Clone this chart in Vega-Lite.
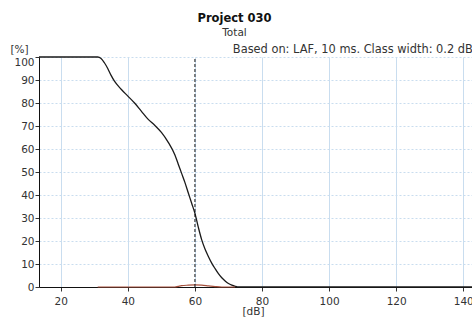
{
  "$schema": "https://vega.github.io/schema/vega-lite/v6.json",
  "autosize": {"type": "none"},
  "padding": {"left": 39, "top": 57, "right": 0, "bottom": 32},
  "width": 441,
  "height": 230,
  "background": "white",
  "config": {
    "view": {"stroke": null},
    "font": "DejaVu Sans",
    "axis": {
      "labelFont": "DejaVu Sans",
      "titleFont": "DejaVu Sans",
      "labelFontSize": 10.5,
      "titleFontSize": 10.5,
      "titleFontWeight": "normal",
      "labelColor": "#333333",
      "titleColor": "#333333",
      "domainColor": "#111111",
      "tickColor": "#333333",
      "tickSize": 4,
      "gridColor": "#c9ddef",
      "gridWidth": 1,
      "labelOverlap": false
    }
  },
  "title": {
    "text": "Project 030",
    "subtitle": "Total",
    "anchor": "middle",
    "dx": -25,
    "fontSize": 11.5,
    "fontWeight": "bold",
    "font": "DejaVu Sans",
    "color": "#111111",
    "subtitleFont": "DejaVu Sans",
    "subtitleFontSize": 10.5,
    "subtitleColor": "#333333",
    "subtitlePadding": 4,
    "offset": 5
  },
  "datasets": {
    "cum": [
      {"db": 13.5, "pct": 100}, {"db": 31, "pct": 100}, {"db": 32, "pct": 99.4},
      {"db": 33, "pct": 97.5}, {"db": 34, "pct": 95}, {"db": 35, "pct": 92},
      {"db": 36, "pct": 89.5}, {"db": 38, "pct": 86}, {"db": 40, "pct": 83},
      {"db": 42, "pct": 80}, {"db": 44, "pct": 76.5}, {"db": 46, "pct": 73},
      {"db": 48, "pct": 70.3}, {"db": 50, "pct": 67.2}, {"db": 52, "pct": 63},
      {"db": 54, "pct": 57.5}, {"db": 55, "pct": 53.5}, {"db": 56, "pct": 49.5},
      {"db": 57, "pct": 45.5}, {"db": 58, "pct": 41}, {"db": 59, "pct": 36.5},
      {"db": 60, "pct": 32}, {"db": 61, "pct": 26}, {"db": 62, "pct": 20.6},
      {"db": 63, "pct": 16.5}, {"db": 64, "pct": 13.3}, {"db": 65, "pct": 10.4},
      {"db": 66, "pct": 8}, {"db": 67, "pct": 5.8}, {"db": 68, "pct": 4},
      {"db": 69, "pct": 2.6}, {"db": 70, "pct": 1.5}, {"db": 71, "pct": 0.8},
      {"db": 72, "pct": 0.3}, {"db": 73, "pct": 0}, {"db": 145, "pct": 0}
    ],
    "dist": [
      {"db": 31, "pct": 0}, {"db": 54, "pct": 0}, {"db": 55, "pct": 0.3},
      {"db": 56, "pct": 0.6}, {"db": 58, "pct": 0.8}, {"db": 60, "pct": 0.9},
      {"db": 62, "pct": 0.8}, {"db": 64, "pct": 0.5}, {"db": 66, "pct": 0.2},
      {"db": 68, "pct": 0}, {"db": 72, "pct": 0}
    ],
    "marker": [{"db": 60, "pct": 0, "top": 100}],
    "note": [{"db": 71.3, "pct": 103.1, "label": "Based on: LAF, 10 ms. Class width: 0.2 dB"}]
  },
  "encoding": {
    "x": {
      "field": "db", "type": "quantitative",
      "scale": {"domain": [13.5, 145], "nice": false, "zero": false},
      "axis": {
        "values": [20, 40, 60, 80, 100, 120, 140],
        "grid": true,
        "title": "[dB]",
        "titleX": 214,
        "titlePadding": 0,
        "labelPadding": 5,
        "labelOverlap": false
      }
    },
    "y": {
      "field": "pct", "type": "quantitative",
      "scale": {"domain": [0, 100], "nice": false},
      "axis": {
        "values": [0, 10, 20, 30, 40, 50, 60, 70, 80, 90, 100],
        "tickCount": 11,
        "labelOverlap": false,
        "grid": true,
        "gridDash": [2, 2],
        "title": "[%]",
        "titleAngle": 0,
        "titleAlign": "center",
        "titleBaseline": "bottom",
        "titleX": -20,
        "titleY": -3,
        "labelPadding": 1,
        "labelBaseline": {"condition": {"test": "datum.value == 100", "value": "top"}, "value": "middle"}
      }
    }
  },
  "layer": [
    {
      "data": {"name": "cum"},
      "mark": {"type": "line", "color": "#1a1a1a", "strokeWidth": 1.3, "interpolate": "monotone"}
    },
    {
      "data": {"name": "dist"},
      "mark": {"type": "line", "color": "#a5503c", "strokeWidth": 1.2, "interpolate": "monotone"}
    },
    {
      "data": {"name": "marker"},
      "mark": {"type": "rule", "color": "#111111", "strokeWidth": 1, "strokeDash": [3, 2]},
      "encoding": {
        "y2": {"field": "top"}
      }
    },
    {
      "data": {"name": "note"},
      "mark": {"type": "text", "align": "left", "baseline": "middle", "fontSize": 11.4, "font": "DejaVu Sans", "color": "#333333"},
      "encoding": {
        "text": {"field": "label"}
      }
    }
  ]
}
